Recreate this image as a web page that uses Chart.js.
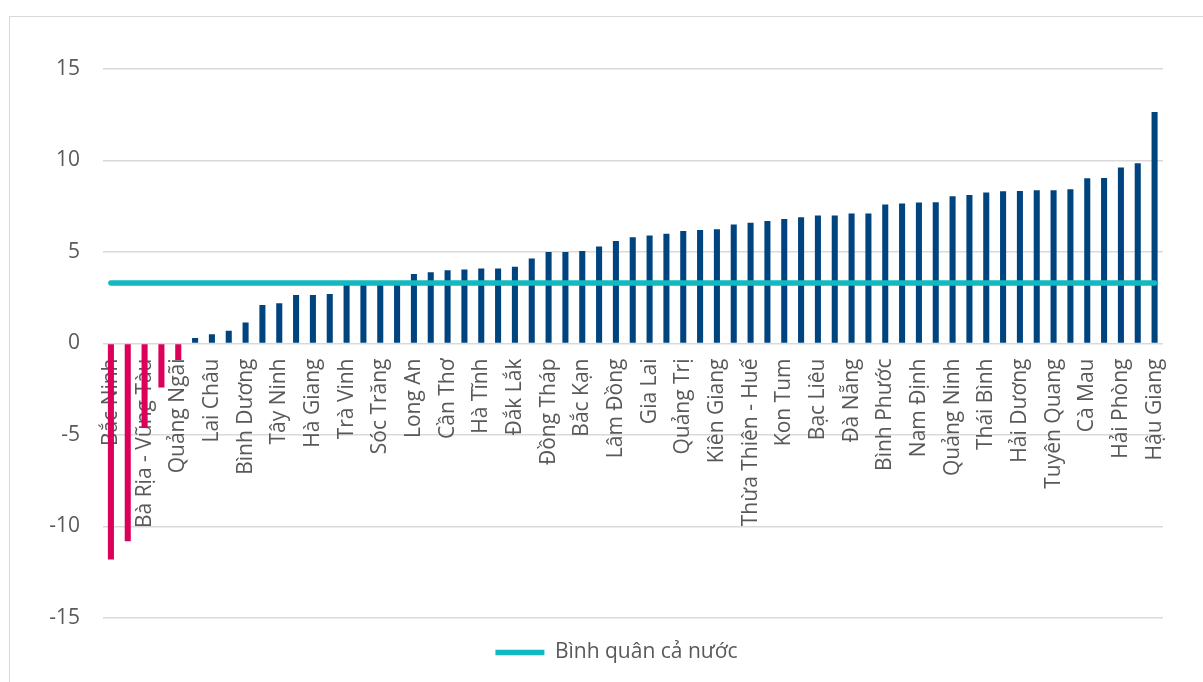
<!DOCTYPE html>
<html lang="vi">
<head>
<meta charset="utf-8">
<title>Tăng trưởng GRDP các tỉnh, thành phố</title>
<script src="https://cdn.jsdelivr.net/npm/chart.js@4.4.1/dist/chart.umd.min.js"></script>
<style>
  html, body { margin: 0; padding: 0; background: #fff; overflow: hidden; }
  /* thin frame around the chart, cut off on the right and bottom */
  .khung { position: absolute; left: 9px; top: 16px; width: 1300px; height: 800px; border: 1px solid #d9d9d9; }
  .wrap { position: absolute; left: 0; top: 0; width: 1203px; height: 682px; }
</style>
</head>
<body>
<div class="khung"></div>
<div class="wrap"><canvas id="chart" width="1203" height="682"></canvas></div>
<script>
// Tên tỉnh trên trục hoành (chỉ hiện xen kẽ, ô trống là tỉnh không ghi nhãn)
const tinhThanh = [
  'Bắc Ninh', '', 'Bà Rịa - Vũng Tàu', '', 'Quảng Ngãi', '', 'Lai Châu', '',
  'Bình Dương', '', 'Tây Ninh', '', 'Hà Giang', '', 'Trà Vinh', '',
  'Sóc Trăng', '', 'Long An', '', 'Cần Thơ', '', 'Hà Tĩnh', '',
  'Đắk Lắk', '', 'Đồng Tháp', '', 'Bắc Kạn', '', 'Lâm Đồng', '',
  'Gia Lai', '', 'Quảng Trị', '', 'Kiên Giang', '', 'Thừa Thiên - Huế', '',
  'Kon Tum', '', 'Bạc Liêu', '', 'Đà Nẵng', '', 'Bình Phước', '',
  'Nam Định', '', 'Quảng Ninh', '', 'Thái Bình', '', 'Hải Dương', '',
  'Tuyên Quang', '', 'Cà Mau', '', 'Hải Phòng', '', 'Hậu Giang'
];

// Tốc độ tăng trưởng (%)
const tangTruong = [
  -11.8, -10.8, -4.6, -2.4, -0.9, 0.3, 0.5, 0.7,
  1.15, 2.1, 2.2, 2.65, 2.65, 2.7, 3.2, 3.25,
  3.3, 3.35, 3.8, 3.9, 4.0, 4.05, 4.1, 4.1,
  4.2, 4.65, 5.0, 5.0, 5.05, 5.3, 5.6, 5.8,
  5.9, 6.0, 6.15, 6.2, 6.25, 6.5, 6.6, 6.7,
  6.8, 6.9, 7.0, 7.0, 7.1, 7.1, 7.6, 7.65,
  7.7, 7.72, 8.05, 8.12, 8.25, 8.32, 8.33, 8.37,
  8.38, 8.43, 9.03, 9.05, 9.62, 9.85, 12.65
];

// Bình quân cả nước, lặp lại cho từng tỉnh để vẽ thành đường ngang
const binhQuan = [
  3.3, 3.3, 3.3, 3.3, 3.3, 3.3, 3.3, 3.3, 3.3, 3.3, 3.3, 3.3, 3.3, 3.3, 3.3, 3.3,
  3.3, 3.3, 3.3, 3.3, 3.3, 3.3, 3.3, 3.3, 3.3, 3.3, 3.3, 3.3, 3.3, 3.3, 3.3, 3.3,
  3.3, 3.3, 3.3, 3.3, 3.3, 3.3, 3.3, 3.3, 3.3, 3.3, 3.3, 3.3, 3.3, 3.3, 3.3, 3.3,
  3.3, 3.3, 3.3, 3.3, 3.3, 3.3, 3.3, 3.3, 3.3, 3.3, 3.3, 3.3, 3.3, 3.3, 3.3
];

const yMin = -15;
const yMax = 15;
const yStep = 5;

const MAU_AM = '#dc005a';
const MAU_DUONG = '#00447f';
const MAU_BQ = '#12b9c0';
const MAU_CHU = '#595959';

Chart.defaults.font.family = "'Open Sans', sans-serif";
Chart.defaults.color = MAU_CHU;

const ctx = document.getElementById('chart');
new Chart(ctx, {
  data: {
    labels: tinhThanh,
    datasets: [
      {
        type: 'bar',
        label: 'Tăng trưởng',
        data: tangTruong,
        backgroundColor: tangTruong.map(v => v < 0 ? MAU_AM : MAU_DUONG),
        barPercentage: 0.36,
        categoryPercentage: 1,
        order: 1
      },
      {
        type: 'line',
        label: 'Bình quân cả nước',
        data: binhQuan,
        borderColor: MAU_BQ,
        backgroundColor: MAU_BQ,
        borderWidth: 5.5,
        borderCapStyle: 'round',
        pointRadius: 0,
        pointStyle: 'line',
        order: 0
      }
    ]
  },
  options: {
    responsive: false,
    animation: false,
    devicePixelRatio: 1,
    layout: { padding: { left: 30, right: 0, top: 69, bottom: 9 } },
    scales: {
      x: {
        type: 'category',
        position: { y: 0 },
        offset: true,
        grid: { display: false, drawTicks: false },
        border: { display: false },
        ticks: {
          autoSkip: false,
          minRotation: 90,
          maxRotation: 90,
          padding: 15,
          color: MAU_CHU,
          font: { size: 21 }
        }
      },
      y: {
        min: yMin,
        max: yMax,
        grid: { color: '#d9d9d9', lineWidth: 1.5, drawTicks: false },
        border: { display: false },
        ticks: {
          stepSize: yStep,
          padding: 22.5,
          color: MAU_CHU,
          font: { size: 21 }
        },
        afterFit: s => { s.width = 72.5; }
      },
      // empty strip on the right so the plot ends before the canvas edge
      phai: {
        position: 'right',
        grid: { display: false, drawTicks: false },
        border: { display: false },
        ticks: { display: false },
        afterFit: s => { s.width = 40; }
      }
    },
    plugins: {
      tooltip: { enabled: false },
      legend: {
        position: 'bottom',
        labels: {
          filter: item => item.datasetIndex === 1,
          usePointStyle: true,
          pointStyle: 'line',
          pointStyleWidth: 49,
          padding: 24,
          color: MAU_CHU,
          font: { size: 21 }
        }
      }
    }
  }
});
</script>
</body>
</html>
